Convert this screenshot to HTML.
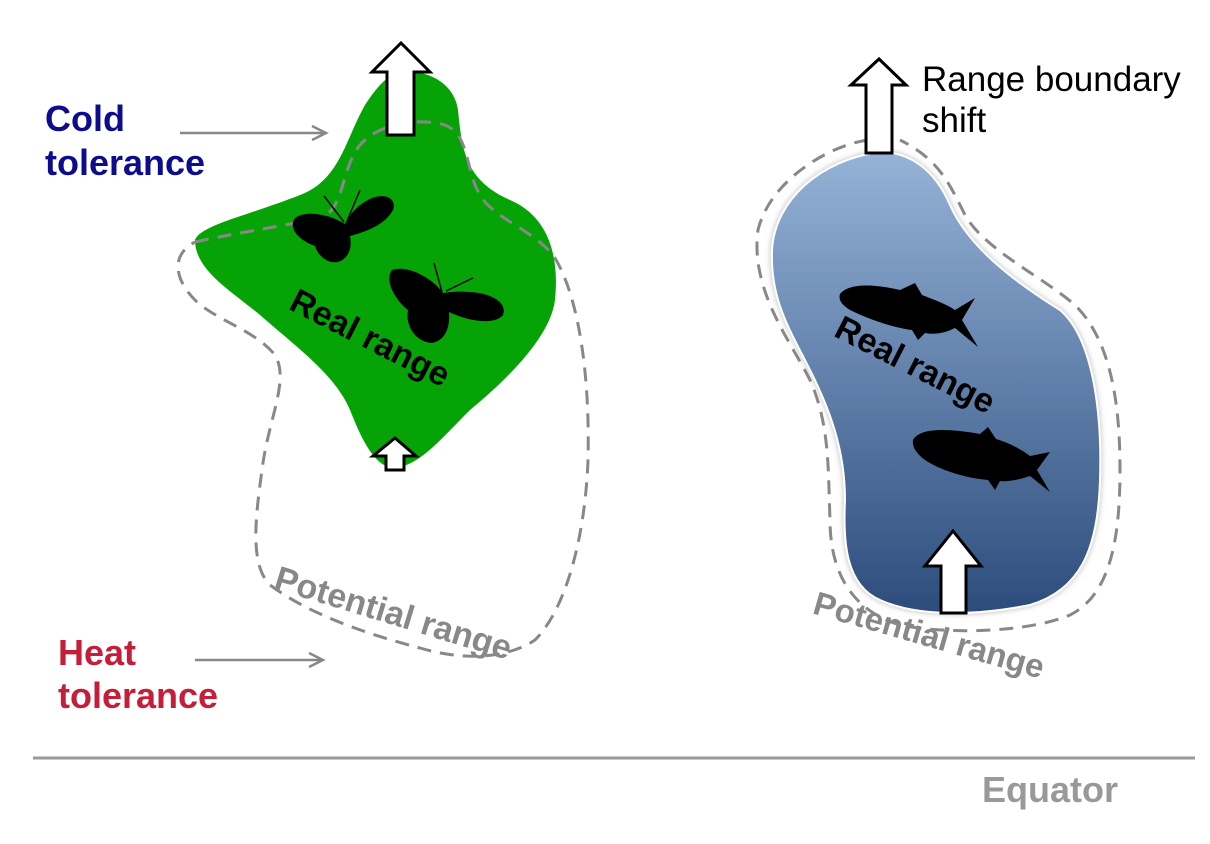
<!DOCTYPE html>
<html><head><meta charset="utf-8"><style>
body{margin:0;background:#fff}
svg{display:block}
text{font-family:"Liberation Sans",Arial,sans-serif}
</style></head><body>
<svg width="1210" height="844" viewBox="0 0 1210 844" xmlns="http://www.w3.org/2000/svg">
<defs>
<linearGradient id="bg" x1="0" y1="0" x2="0" y2="1">
<stop offset="0" stop-color="#95b3d7"/><stop offset="1" stop-color="#2c4c7c"/>
</linearGradient>
<filter id="glow" x="-10%" y="-10%" width="120%" height="120%">
<feDropShadow dx="0" dy="0" stdDeviation="3" flood-color="#888" flood-opacity="0.6"/>
</filter>
</defs>

<path d="M405,72 C430,70 455,85 458,110 C462,150 465,180 510,200 C545,215 560,250 555,300 C550,340 500,385 470,410 C440,440 420,465 395,468 C375,468 362,440 350,410 C335,375 300,350 260,315 C230,290 195,270 195,240 C200,225 250,215 300,195 C340,180 345,140 365,105 C380,82 390,73 405,72 Z" fill="#06a306"/>

<path d="M195,242 C240,232 290,225 320,218 C345,210 340,170 360,145 C380,122 420,118 445,125 C470,135 465,170 480,195 C495,220 535,230 555,258 C580,300 590,380 588,460 C585,540 565,610 535,640 C505,660 460,660 420,648 C370,635 310,615 270,585 C250,565 255,520 262,470 C268,420 290,380 275,355 C255,330 215,320 195,300 C175,280 170,255 195,242" fill="none" stroke="#888" stroke-width="3" stroke-dasharray="14,9"/>

<g fill="#000">
<path d="M345,224 C330,214 305,210 295,218 C288,228 298,240 315,246 C318,256 328,264 338,262 C350,258 352,246 350,236 C365,232 385,225 393,210 C397,198 385,193 372,198 C360,203 350,213 345,224 Z"/>
<line x1="344" y1="222" x2="324" y2="196" stroke="#000" stroke-width="1.5"/>
<line x1="347" y1="221" x2="360" y2="190" stroke="#000" stroke-width="1.5"/>
<path d="M443,293 C430,275 405,265 392,270 C384,280 395,300 408,310 C405,325 415,342 432,343 C447,340 450,325 449,312 C470,322 495,325 503,315 C508,302 490,293 470,292 C460,291 450,292 443,293 Z"/>
<line x1="442" y1="292" x2="434" y2="263" stroke="#000" stroke-width="1.5"/>
<line x1="446" y1="291" x2="473" y2="278" stroke="#000" stroke-width="1.5"/>
</g>

<text x="0" y="0" transform="translate(365,348) rotate(27)" text-anchor="middle" font-size="34" font-weight="bold" fill="#000">Real range</text>
<text x="0" y="0" transform="translate(390,624) rotate(17)" text-anchor="middle" font-size="34" font-weight="bold" fill="#888">Potential range</text>

<path d="M387,135 L387,72 L372,72 L401,43 L430,72 L414,72 L414,135 Z" fill="#fff" stroke="#000" stroke-width="3"/>
<path d="M386,470 L386,456 L373,456 L395,438 L416,456 L404,456 L404,470 Z" fill="#fff" stroke="#000" stroke-width="3"/>

<path d="M880,152 C910,152 935,170 950,205 C970,250 1020,285 1060,310 C1095,340 1102,420 1100,480 C1098,550 1080,590 1030,605 C980,615 920,618 880,600 C845,585 843,540 845,500 C845,450 830,410 810,370 C790,330 770,300 772,250 C775,200 820,160 880,152 Z" fill="url(#bg)" filter="url(#glow)" stroke="#fff" stroke-width="2"/>

<path d="M868,140 C830,145 770,180 758,230 C750,290 790,340 810,380 C830,425 828,470 830,520 C830,570 850,610 900,625 C950,635 1030,632 1070,615 C1110,595 1120,540 1120,470 C1120,400 1110,340 1075,305 C1040,275 985,250 965,215 C950,185 940,160 900,140" fill="none" stroke="#888" stroke-width="3" stroke-dasharray="14,9"/>

<g fill="#000">
<path d="M840,294 C848,284 870,283 900,290 L915,283 L922,295 C935,300 948,305 955,310 L975,298 L962,320 L978,347 L955,328 C945,333 935,335 925,333 L918,340 L912,330 C895,328 870,320 850,310 C842,305 838,300 840,294 Z"/>
<path d="M913,440 C920,428 945,428 980,434 L988,427 L996,439 C1010,443 1022,450 1030,456 L1050,452 L1037,470 L1050,492 L1030,476 C1018,480 1008,482 1000,481 L995,490 L988,480 C965,478 940,470 925,460 C916,453 912,447 913,440 Z"/>
</g>

<text x="0" y="0" transform="translate(910,375) rotate(27)" text-anchor="middle" font-size="34" font-weight="bold" fill="#000">Real range</text>
<text x="0" y="0" transform="translate(926,646) rotate(16)" text-anchor="middle" font-size="33" font-weight="bold" fill="#888">Potential range</text>

<path d="M866,153 L866,85 L851,85 L879,59 L906,85 L892,85 L892,153 Z" fill="#fff" stroke="#000" stroke-width="3"/>
<path d="M941,613 L941,566 L925,566 L953,531 L981,566 L966,566 L966,613 Z" fill="#fff" stroke="#000" stroke-width="3"/>

<text x="45" y="131" font-size="36" font-weight="bold" fill="#0c0c8c">Cold</text>
<text x="45" y="175" font-size="36" font-weight="bold" fill="#0c0c8c">tolerance</text>
<text x="58" y="665" font-size="36" font-weight="bold" fill="#c41e3a">Heat</text>
<text x="58" y="708" font-size="36" font-weight="bold" fill="#c41e3a">tolerance</text>

<g stroke="#888" stroke-width="2.5" fill="none">
<line x1="180" y1="133" x2="325" y2="133"/>
<polyline points="312,126 326,133 312,140"/>
<line x1="195" y1="660" x2="322" y2="660"/>
<polyline points="309,653 323,660 309,667"/>
</g>

<text x="922" y="91" font-size="35" fill="#000">Range boundary</text>
<text x="922" y="132" font-size="35" fill="#000">shift</text>

<line x1="33" y1="758" x2="1195" y2="758" stroke="#999" stroke-width="3"/>
<text x="982" y="802" font-size="36" font-weight="bold" fill="#999">Equator</text>
</svg>
</body></html>
